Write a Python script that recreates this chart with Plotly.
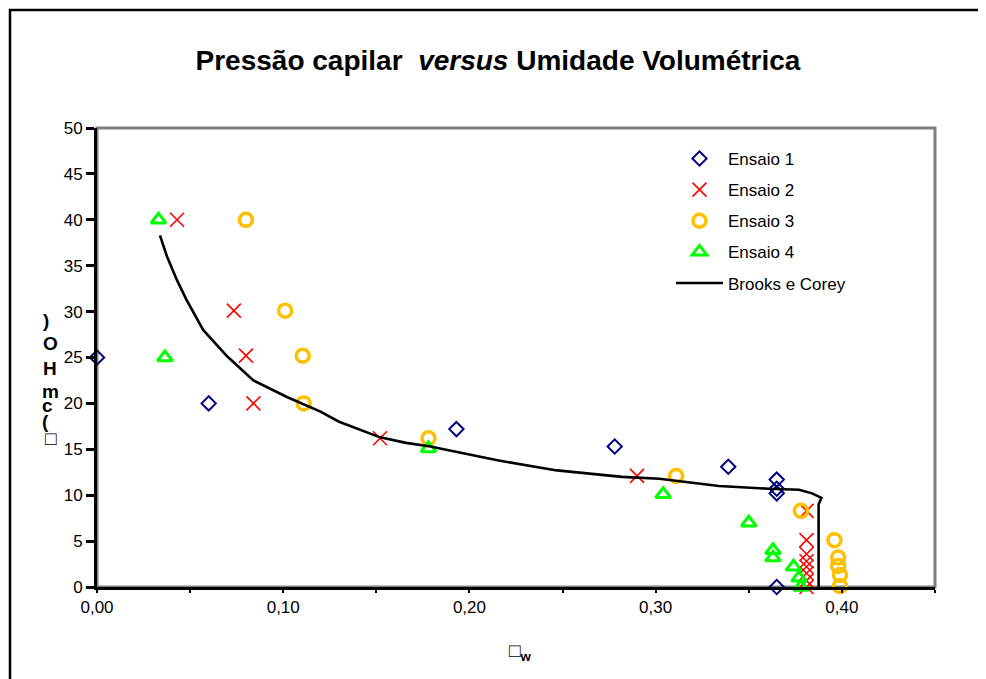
import plotly.graph_objects as go

# ---- data ----
ens1_x = [0.000, 0.060, 0.193, 0.278, 0.339, 0.365, 0.365, 0.365, 0.365]
ens1_y = [25.0, 20.0, 17.2, 15.3, 13.1, 11.7, 10.7, 10.2, 0.0]

ens2_x = [0.043, 0.0735, 0.080, 0.084, 0.152, 0.290, 0.381, 0.381, 0.381, 0.381, 0.381, 0.381, 0.381, 0.381]
ens2_y = [40.0, 30.1, 25.2, 20.0, 16.2, 12.1, 8.3, 5.1, 3.6, 2.8, 2.2, 1.5, 0.7, 0.0]

ens3_x = [0.080, 0.101, 0.1105, 0.111, 0.178, 0.311, 0.378, 0.396, 0.398, 0.398, 0.399, 0.399]
ens3_y = [40.0, 30.1, 25.2, 20.0, 16.2, 12.1, 8.3, 5.1, 3.2, 2.3, 1.3, 0.1]

ens4_x = [0.033, 0.0365, 0.178, 0.304, 0.350, 0.363, 0.363, 0.374, 0.377, 0.378]
ens4_y = [40.0, 25.0, 15.1, 10.1, 7.0, 4.0, 3.2, 2.2, 1.0, 0.0]

bc_x = [0.0338, 0.0376, 0.043, 0.048, 0.057, 0.070, 0.084, 0.102, 0.120, 0.130, 0.152, 0.166,
        0.179, 0.215, 0.247, 0.282, 0.302, 0.324, 0.334, 0.361, 0.377, 0.384, 0.389, 0.3875, 0.3875]
bc_y = [38.3, 36.0, 33.4, 31.3, 28.0, 25.1, 22.5, 20.7, 19.1, 18.0, 16.3, 15.7,
        15.3, 13.8, 12.7, 12.0, 11.8, 11.3, 11.0, 10.7, 10.6, 10.2, 9.7, 9.0, 0.0]

x_range = [0, 0.45]
y_range = [0, 50]

title_text = "<b>Pressão capilar  <i>versus</i> Umidade Volumétrica</b>"
x_title = "<b>□<sub>w</sub></b>"
y_title_chars = [")", "O", "H", "m", "c", "(", "□"]

FONT = "Liberation Sans, Arial, sans-serif"

fig = go.Figure()

fig.add_trace(go.Scatter(
    x=ens1_x, y=ens1_y, mode="markers", name="Ensaio 1", cliponaxis=False, legendgroup="g1",
    marker=dict(symbol="diamond-open", size=11, color="#000080", line=dict(width=2, color="#000080")),
))
fig.add_trace(go.Scatter(
    x=ens2_x, y=ens2_y, mode="markers", name="Ensaio 2", cliponaxis=False, legendgroup="g2",
    marker=dict(symbol="x-thin-open", size=14, color="#FF0000", line=dict(width=1.6, color="#FF0000")),
))
fig.add_trace(go.Scatter(
    x=ens3_x, y=ens3_y, mode="markers", name="Ensaio 3", cliponaxis=False, legendgroup="g3",
    marker=dict(symbol="circle-open", size=13, color="#FFC000", line=dict(width=3.5, color="#FFC000")),
))
fig.add_trace(go.Scatter(
    x=ens4_x, y=ens4_y, mode="markers", name="Ensaio 4", cliponaxis=False, legendgroup="g4",
    marker=dict(symbol="triangle-up-open", size=13, color="#00FF00", line=dict(width=3, color="#00FF00")),
))
fig.add_trace(go.Scatter(
    x=bc_x, y=bc_y, mode="lines", name="Brooks e Corey", legendgroup="g5",
    line=dict(color="black", width=2.6),
))

# page offset (body margin) and plot-area pixel box in page coordinates
OFF = 8
FIG_W, FIG_H = 986 - OFF, 679 - OFF
L, R, T, B = 97, 935, 128, 587
W, H = R - L, B - T


def px_x(p):
    return (p - L) / W


def px_y(p):
    return (B - p) / H


shapes = [
    dict(type="rect", xref="paper", yref="paper", x0=0, x1=1, y0=0, y1=1,
         line=dict(color="#808080", width=3), layer="below"),
    dict(type="rect", xref="paper", yref="paper", x0=px_x(10), x1=px_x(995), y0=px_y(700), y1=px_y(10),
         line=dict(color="black", width=2.5), layer="below"),
]

annotations = []
y_pos = [320, 343, 368, 391, 406, 421, 438]
x_pos = [46, 50, 50, 50, 47, 45, 51]
for ch, yp, xp in zip(y_title_chars, y_pos, x_pos):
    annotations.append(dict(
        text="<b>%s</b>" % ch, xref="paper", yref="paper", x=px_x(xp), y=px_y(yp),
        xanchor="center", yanchor="middle", showarrow=False,
        font=dict(family=FONT, size=19, color="black"),
    ))
annotations.append(dict(
    text=x_title, xref="paper", yref="paper", x=px_x(520), y=px_y(652),
    xanchor="center", yanchor="middle", showarrow=False,
    font=dict(family=FONT, size=19, color="black"),
))

fig.update_layout(
    width=FIG_W, height=FIG_H,
    margin=dict(l=L - OFF, r=986 - R, t=T - OFF, b=679 - B),
    paper_bgcolor="white", plot_bgcolor="white",
    separators=",.",
    font=dict(family=FONT, size=17, color="black"),
    title=dict(text=title_text, x=(498 - OFF) / FIG_W, xref="container", xanchor="center",
               y=1 - (60 - OFF) / FIG_H, yref="container", yanchor="middle",
               font=dict(family=FONT, size=28, color="black")),
    showlegend=True,
    legend=dict(x=px_x(671), y=px_y(141), xanchor="left", yanchor="top",
                bgcolor="rgba(0,0,0,0)", borderwidth=0,
                font=dict(family=FONT, size=17, color="black"),
                traceorder="grouped", tracegroupgap=6, itemwidth=47),
    xaxis=dict(range=x_range, dtick=0.1, tick0=0, tickformat=".2f",
               showgrid=False, zeroline=False, showline=True, linecolor="black", linewidth=3,
               ticks="outside", ticklen=3, tickwidth=2, tickcolor="black",
               minor=dict(dtick=0.05, ticks="outside", ticklen=3, tickwidth=2, tickcolor="black", showgrid=False),
               tickfont=dict(family=FONT, size=17, color="black"), fixedrange=True),
    yaxis=dict(range=y_range, dtick=5, tick0=0,
               showgrid=False, zeroline=False, showline=True, linecolor="black", linewidth=3,
               ticks="outside", ticklen=8, tickwidth=3, tickcolor="black",
               tickfont=dict(family=FONT, size=17, color="black"), fixedrange=True),
    shapes=shapes,
    annotations=annotations,
)

fig.write_html("out.html")
